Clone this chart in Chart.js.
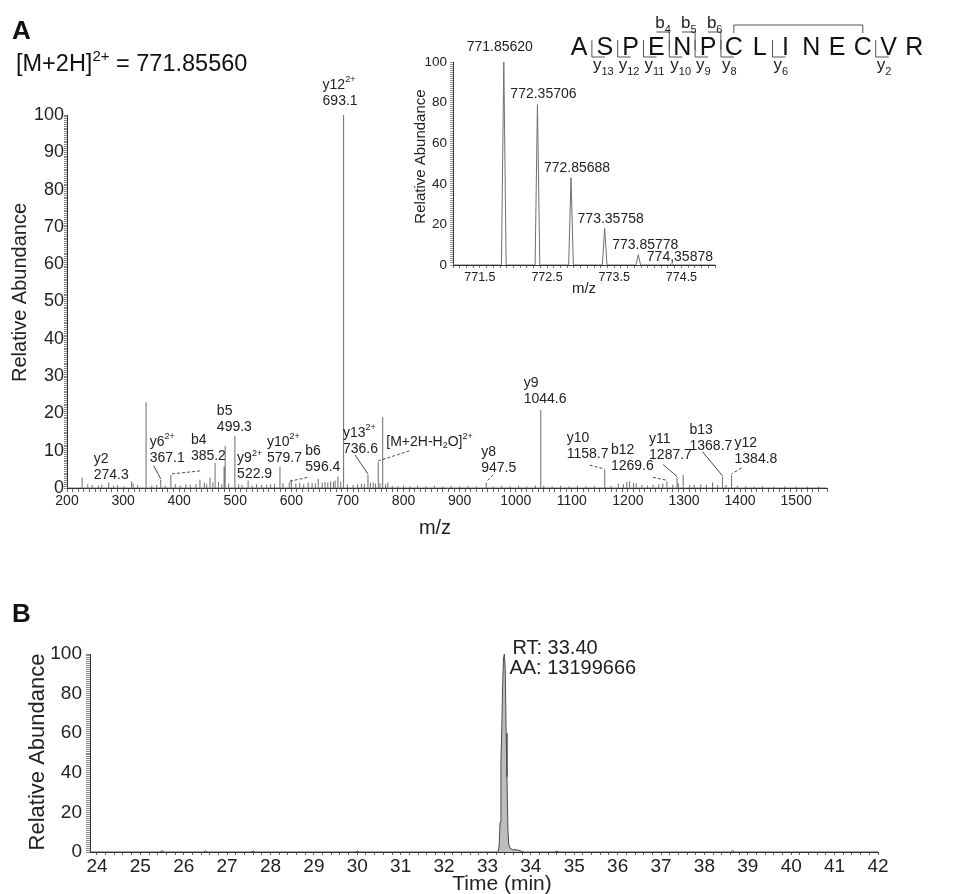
<!DOCTYPE html>
<html>
<head>
<meta charset="utf-8">
<script src="https://cdn.jsdelivr.net/npm/chart.js@4.4.1/dist/chart.umd.min.js"></script>
<style>
  html, body { margin: 0; padding: 0; background: #fff; }
  #wrap { position: relative; width: 969px; height: 894px; overflow: hidden; }
  canvas { position: absolute; }
  #msms { left: 0; top: 0; }
  #iso { left: 400px; top: 0; }
  #xic { left: 0; top: 560px; }
</style>
</head>
<body>
<div id="wrap">
  <canvas id="msms" width="969" height="545"></canvas>
  <canvas id="iso" width="330" height="300"></canvas>
  <canvas id="xic" width="969" height="334"></canvas>
</div>
<script>
// ---------- MS/MS spectrum of the doubly charged precursor (centroid m/z, relative abundance) ----------
const msmsMz = [
  227, 237, 245, 256, 262, 274.3, 283, 290, 302, 315,
  318, 326, 341, 351, 360, 367.1, 375, 385.2, 393, 402,
  412, 420, 430, 437, 445, 449, 455, 460, 464, 470,
  476, 480, 482, 488, 499.3, 506, 512, 522.9, 530, 538,
  547, 556, 563, 570, 579.7, 585, 596.4, 600, 608, 615,
  622, 630, 637, 643, 648, 655, 660, 665, 670, 675,
  678, 683, 688, 693.1, 700, 710, 718, 725, 730, 736.6,
  741, 746, 750, 755, 758, 762.8, 768, 772, 780, 790,
  800, 812, 825, 840, 855, 870, 885, 900, 915, 930,
  947.5, 960, 975, 990, 1005, 1020, 1035, 1044.6, 1050, 1065,
  1080, 1095, 1110, 1125, 1140, 1158.7, 1170, 1183, 1192, 1198,
  1203, 1210, 1215, 1225, 1235, 1245, 1255, 1262, 1269.6, 1280,
  1287.7, 1290, 1298.6, 1310, 1318, 1330, 1340, 1351, 1360, 1368.7,
  1375, 1384.8, 1395, 1410, 1425, 1440, 1460, 1480, 1500, 1520,
  1540
];
const msmsInt = [
  2.8, 1.0, 0.8, 0.7, 0.9, 1.5, 0.6, 0.8, 0.5, 1.8,
  1.2, 0.8, 23, 0.7, 0.8, 2.2, 0.6, 3.5, 1.0, 0.7,
  1.0, 0.9, 1.1, 2.2, 1.4, 1.0, 2.8, 1.5, 6.7, 1.6,
  1.0, 5.7, 11.3, 1.2, 14, 1.0, 0.8, 2.0, 0.7, 1.0,
  0.8, 0.9, 1.0, 1.1, 5.7, 1.3, 1.5, 2.2, 1.2, 1.4,
  1.0, 1.5, 1.3, 1.2, 2.5, 1.4, 1.6, 1.5, 1.8, 1.6,
  2.0, 3.0, 1.7, 100, 1.0, 0.8, 1.0, 1.2, 1.1, 3.5,
  1.4, 1.5, 1.2, 7.0, 1.3, 19, 1.0, 1.5, 0.6, 0.5,
  0.7, 0.5, 0.6, 0.5, 0.7, 0.5, 0.6, 0.5, 0.6, 0.5,
  1.4, 0.5, 0.6, 0.5, 0.6, 0.5, 0.7, 21, 0.6, 0.5,
  0.6, 0.5, 0.6, 0.5, 0.6, 4.8, 0.6, 1.2, 1.0, 1.6,
  1.8, 1.4, 1.2, 0.8, 0.7, 0.8, 1.0, 1.2, 1.8, 0.9,
  2.8, 1.2, 3.5, 0.8, 0.9, 1.0, 0.8, 1.5, 0.8, 3.0,
  0.8, 3.5, 0.6, 0.5, 0.4, 0.5, 0.4, 0.5, 0.4, 0.4,
  0.4
];

// annotated fragment ions
const ionName   = ['y2', 'y6', 'b4', 'b5', 'y9', 'y10', 'b6', 'y12', 'y13', '[M+2H-H2O]', 'y8', 'y9', 'y10', 'b12', 'y11', 'b13', 'y12'];
const ionCharge = ['', '2+', '', '', '2+', '2+', '', '2+', '2+', '2+', '', '', '', '', '', '', ''];
const ionMz     = [274.3, 367.1, 385.2, 499.3, 522.9, 579.7, 596.4, 693.1, 736.6, 755, 947.5, 1044.6, 1158.7, 1269.6, 1287.7, 1368.7, 1384.8];
const ionShowMz = [true, true, true, true, true, true, true, true, true, false, true, true, true, true, true, true, true];

// precursor isotope envelope
const precursorText = '771.85560';
const isoMz   = [771.85620, 772.35706, 772.85688, 773.35758, 773.85778, 774.35878];
const isoInt  = [100, 79, 43, 18, 5, 0.6];
const isoText = ['771.85620', '772.35706', '772.85688', '773.35758', '773.85778', '774,35878'];

// peptide sequence and observed cleavages
const residues   = ['A', 'S', 'P', 'E', 'N', 'P', 'C', 'L', 'I', 'N', 'E', 'C', 'V', 'R'];
const yIonSites  = [13, 12, 11, 10, 9, 8, 6, 2];
const bIonSites  = [4, 5, 6];
const disulfide  = [6, 11];

// extracted ion chromatogram
const rtMin = [
  23.84, 25.45, 25.5, 25.55, 26.45, 26.5, 26.55, 27.55, 27.6, 27.65,
  29.95, 30.0, 30.05, 33.24, 33.27, 33.29, 33.31, 33.33, 33.35, 33.37,
  33.39, 33.41, 33.43, 33.45, 33.47, 33.49, 33.52, 33.58, 33.7, 33.8,
  33.85, 34.55, 34.6, 34.65, 38.6, 38.65, 38.7, 42.0
];
const rtAbund = [
  0, 0, 0.6, 0, 0, 0.6, 0, 0, 0.5, 0,
  0, 0.5, 0, 0, 3, 15, 45, 62, 85, 98,
  100, 92, 60, 38, 12, 4, 2, 1.2, 1, 0.3,
  0, 0, 0.5, 0, 0, 0.7, 0, 0
];
const rtLabel = 'RT: 33.40';
const aaLabel = 'AA: 13199666';

// ---------- label layout (pixel offsets from the top of each annotated peak) ----------
const ionLabelOffset = [
  [-15, -23], [-11, -38], [20, -35], [-18, -25], [-11, -22], [-13, -25], [16, -31], [-21, -30], [-25, -42],
  [8, -20], [-5, -31], [-17, -27], [-38, -32], [-56, -31], [-28, -38], [-33, -47], [3, -32]
];
const ionLeader = [
  null, [-7, -14, false], [29, -4, true], null, null, null, [18, -5, true], null, [-13, -20, false],
  [31, -11, true], [7, -8, true], null, [-15, -5, true], [-14, -4, true], [-14, -13, false], [-20, -25, false], [10, -7, true]
];
const isoLabelOffset = [[-4, -15], [6, -10], [6, -10], [6, -9], [7, -10], [8, -7]];

// ---------- drawing helpers ----------
Chart.defaults.font.family = '"Liberation Sans", Arial, Helvetica, sans-serif';
Chart.defaults.color = '#222';
const FF = Chart.defaults.font.family;

function drawRich(ctx, x, y, segs, size, align) {
  const small = Math.round(size * 0.64);
  const ws = [];
  let w = 0;
  for (const [t, m] of segs) {
    ctx.font = `${m === 'n' ? size : small}px ${FF}`;
    const ww = ctx.measureText(t).width;
    ws.push(ww); w += ww;
  }
  let cx = align === 'center' ? x - w / 2 : x;
  ctx.textAlign = 'left';
  segs.forEach(([t, m], i) => {
    ctx.font = `${m === 'n' ? size : small}px ${FF}`;
    const oy = m === 'sup' ? -size * 0.36 : m === 'sub' ? size * 0.28 : 0;
    ctx.fillText(t, cx, y + oy);
    cx += ws[i];
  });
}

function ionSegs(i) {
  const name = ionName[i];
  const segs = name === '[M+2H-H2O]'
    ? [['[M+2H-H', 'n'], ['2', 'sub'], ['O]', 'n']]
    : [[name, 'n']];
  if (ionCharge[i]) segs.push([ionCharge[i], 'sup']);
  return segs;
}

function vTitle(ctx, text, x, y, size) {
  ctx.save();
  ctx.translate(x, y);
  ctx.rotate(-Math.PI / 2);
  ctx.font = `${size}px ${FF}`;
  ctx.fillStyle = '#222';
  ctx.textAlign = 'center';
  ctx.textBaseline = 'middle';
  ctx.fillText(text, 0, 0);
  ctx.restore();
}
function hTitle(ctx, text, x, y, size) {
  ctx.save();
  ctx.font = `${size}px ${FF}`;
  ctx.fillStyle = '#222';
  ctx.textAlign = 'center';
  ctx.textBaseline = 'middle';
  ctx.fillText(text, x, y);
  ctx.restore();
}

// ---------- panel A: MS/MS spectrum ----------
const stickPoints = [{ x: 200, y: 0 }];
msmsMz.forEach((m, i) => { stickPoints.push({ x: m, y: 0 }, { x: m, y: msmsInt[i] }, { x: m, y: 0 }); });
stickPoints.push({ x: 1555, y: 0 });

const msmsDecor = {
  id: 'msmsDecor',
  afterDatasetsDraw(chart) {
    const { ctx, scales: { x, y } } = chart;
    ctx.save();
    ctx.fillStyle = '#222';
    ctx.textBaseline = 'middle';
    ionMz.forEach((m, i) => {
      const h = msmsInt[msmsMz.indexOf(m)];
      const px = x.getPixelForValue(m), py = y.getPixelForValue(h);
      const [dx, dy] = ionLabelOffset[i];
      drawRich(ctx, px + dx, py + dy, ionSegs(i), 14, 'left');
      if (ionShowMz[i]) {
        ctx.font = `14px ${FF}`;
        ctx.fillText(m.toFixed(1), px + dx, py + dy + 16);
      }
      const lf = ionLeader[i];
      if (lf) {
        ctx.beginPath();
        ctx.setLineDash(lf[2] ? [3, 2] : []);
        ctx.strokeStyle = '#333';
        ctx.lineWidth = 0.9;
        ctx.moveTo(px + lf[0], py + lf[1]);
        ctx.lineTo(px, py - 1);
        ctx.stroke();
        ctx.setLineDash([]);
      }
    });
    ctx.restore();
  },
  afterDraw(chart) {
    const { ctx, chartArea: ca } = chart;
    ctx.save();
    // axis titles
    vTitle(ctx, 'Relative Abundance', ca.left - 47, (ca.top + ca.bottom) / 2 - 9, 20);
    hTitle(ctx, 'm/z', (ca.left + ca.right) / 2 - 12, ca.bottom + 40, 20);
    // panel letter and precursor
    ctx.fillStyle = '#111';
    ctx.font = `bold 26px ${FF}`;
    ctx.textAlign = 'left';
    ctx.textBaseline = 'alphabetic';
    ctx.fillText('A', 12, 39);
    ctx.textBaseline = 'middle';
    drawRich(ctx, 16, 65, [['[M+2H]', 'n'], ['2+', 'sup'], [' = ' + precursorText, 'n']], 23.5, 'left');

    // peptide sequence with fragment map
    const X0 = 579, STEP = 25.8;
    const X = k => X0 + k * STEP;
    ctx.font = `25px ${FF}`;
    ctx.textAlign = 'center';
    ctx.textBaseline = 'alphabetic';
    ctx.fillStyle = '#111';
    residues.forEach((r, k) => ctx.fillText(r, X(k), 55));
    ctx.strokeStyle = '#555';
    ctx.lineWidth = 1;
    ctx.fillStyle = '#222';
    yIonSites.forEach(n => {
      const k = residues.length - n;
      const xb = (X(k - 1) + X(k)) / 2;
      ctx.beginPath();
      ctx.moveTo(xb, 40); ctx.lineTo(xb, 57); ctx.lineTo(xb + 13, 57);
      ctx.stroke();
      ctx.textBaseline = 'alphabetic';
      drawRich(ctx, xb + 1, 70, [['y', 'n'], [String(n), 'sub']], 17, 'left');
    });
    bIonSites.forEach(n => {
      const xb = (X(n - 1) + X(n)) / 2;
      ctx.beginPath();
      ctx.moveTo(xb - 13, 32); ctx.lineTo(xb, 32); ctx.lineTo(xb, 50);
      ctx.stroke();
      ctx.textBaseline = 'alphabetic';
      drawRich(ctx, xb - 14, 28, [['b', 'n'], [String(n), 'sub']], 17, 'left');
    });
    ctx.beginPath();
    ctx.moveTo(X(disulfide[0]), 33); ctx.lineTo(X(disulfide[0]), 25);
    ctx.lineTo(X(disulfide[1]), 25); ctx.lineTo(X(disulfide[1]), 33);
    ctx.stroke();
    ctx.restore();
  }
};

new Chart(document.getElementById('msms'), {
  type: 'scatter',
  data: { datasets: [{ data: stickPoints, showLine: true, borderColor: '#7a7a7a', borderWidth: 1.1, pointRadius: 0, tension: 0 }] },
  options: {
    responsive: false, animation: false, devicePixelRatio: 1,
    layout: { padding: { left: 0, top: 115, right: 142, bottom: 0 } },
    plugins: { legend: { display: false }, tooltip: { enabled: false } },
    scales: {
      x: {
        type: 'linear', min: 200, max: 1555,
        afterFit: s => { s.height = 57; },
        ticks: { stepSize: 10, autoSkip: false, maxRotation: 0, padding: 1, font: { size: 14 },
          callback: v => (Math.abs(v - Math.round(v / 100) * 100) < 1e-6 ? String(Math.round(v)) : '') },
        grid: { drawOnChartArea: false, tickLength: 4, color: '#666' },
        border: { color: '#333' }
      },
      y: {
        min: 0, max: 100,
        afterFit: s => { s.width = 67; },
        ticks: { stepSize: 0.5, autoSkip: false, padding: 0, font: { size: 18 },
          callback: v => (v % 10 === 0 ? String(v) : '') },
        grid: { drawOnChartArea: false, tickLength: 3, color: '#888' },
        border: { color: '#333' }
      }
    }
  },
  plugins: [msmsDecor]
});

// ---------- inset: precursor isotope cluster ----------
const isoPoints = [{ x: 771.1, y: 0 }];
isoMz.forEach((m, i) => { isoPoints.push({ x: m - 0.035, y: 0 }, { x: m, y: isoInt[i] }, { x: m + 0.035, y: 0 }); });
isoPoints.push({ x: 775.0, y: 0 });

const isoDecor = {
  id: 'isoDecor',
  afterDatasetsDraw(chart) {
    const { ctx, scales: { x, y }, chartArea: ca } = chart;
    ctx.save();
    ctx.fillStyle = '#222';
    ctx.textBaseline = 'middle';
    ctx.textAlign = 'center';
    ctx.font = `14px ${FF}`;
    isoMz.forEach((m, i) => {
      const px = x.getPixelForValue(m), py = y.getPixelForValue(isoInt[i]);
      const [dx, dy] = isoLabelOffset[i];
      ctx.fillText(isoText[i], px + dx, py + dy);
    });
    vTitle(ctx, 'Relative Abundance', ca.left - 32, (ca.top + ca.bottom) / 2 - 7, 15);
    hTitle(ctx, 'm/z', (ca.left + ca.right) / 2, ca.bottom + 24, 15);
    ctx.restore();
  }
};

new Chart(document.getElementById('iso'), {
  type: 'scatter',
  data: { datasets: [{ data: isoPoints, showLine: true, borderColor: '#6f6f6f', borderWidth: 1, pointRadius: 0, tension: 0 }] },
  options: {
    responsive: false, animation: false, devicePixelRatio: 1,
    layout: { padding: { left: 0, top: 62, right: 15, bottom: 0 } },
    plugins: { legend: { display: false }, tooltip: { enabled: false } },
    scales: {
      x: {
        type: 'linear', min: 771.1, max: 775.0,
        afterFit: s => { s.height = 35; },
        ticks: { stepSize: 0.1, autoSkip: false, maxRotation: 0, padding: 2, font: { size: 12.5 },
          callback: v => (Math.round(v * 10) % 10 === 5 ? v.toFixed(1) : '') },
        grid: { drawOnChartArea: false, tickLength: 3, color: '#777' },
        border: { color: '#333' }
      },
      y: {
        min: 0, max: 100,
        afterFit: s => { s.width = 53; },
        ticks: { stepSize: 1, autoSkip: false, padding: 3, font: { size: 13.5 },
          callback: v => (v % 20 === 0 ? String(v) : '') },
        grid: { drawOnChartArea: false, tickLength: 3, color: '#999' },
        border: { color: '#333' }
      }
    }
  },
  plugins: [isoDecor]
});

// ---------- panel B: extracted ion chromatogram ----------
const xicPoints = rtMin.map((t, i) => ({ x: t, y: rtAbund[i] }));

const xicDecor = {
  id: 'xicDecor',
  afterDraw(chart) {
    const { ctx, scales: { x, y }, chartArea: ca } = chart;
    ctx.save();
    const iTop = rtAbund.indexOf(Math.max(...rtAbund));
    const px = x.getPixelForValue(rtMin[iTop]), py = y.getPixelForValue(rtAbund[iTop]);
    ctx.fillStyle = '#222';
    ctx.textAlign = 'left';
    ctx.textBaseline = 'middle';
    ctx.font = `20px ${FF}`;
    ctx.fillText(rtLabel, px + 8, py - 6);
    ctx.fillText(aaLabel, px + 5, py + 14);
    vTitle(ctx, 'Relative Abundance', ca.left - 52, (ca.top + ca.bottom) / 2 - 1, 22);
    hTitle(ctx, 'Time (min)', (ca.left + ca.right) / 2 + 18, ca.bottom + 32, 21);
    ctx.fillStyle = '#111';
    ctx.font = `bold 26px ${FF}`;
    ctx.textBaseline = 'alphabetic';
    ctx.fillText('B', 12, 62);
    ctx.restore();
  }
};

new Chart(document.getElementById('xic'), {
  type: 'scatter',
  data: { datasets: [{ data: xicPoints, showLine: true, fill: 'origin', backgroundColor: '#bdbdbd',
    borderColor: '#4a4a4a', borderWidth: 1, pointRadius: 0, tension: 0 }] },
  options: {
    responsive: false, animation: false, devicePixelRatio: 1,
    layout: { padding: { left: 0, top: 94, right: 91, bottom: 0 } },
    plugins: { legend: { display: false }, tooltip: { enabled: false } },
    scales: {
      x: {
        type: 'linear', min: 23.84, max: 42,
        afterFit: s => { s.height = 42; },
        // minor ticks every 0.2 min from 24 to 42, labelled on whole minutes
        afterBuildTicks: s => {
          const t = [];
          for (let k = 0; k <= 90; k++) t.push({ value: Math.round((24 + k * 0.2) * 10) / 10 });
          s.ticks = t;
        },
        ticks: { autoSkip: false, maxRotation: 0, padding: 0, font: { size: 19 },
          callback: v => (Math.abs(v - Math.round(v)) < 1e-6 ? String(Math.round(v)) : '') },
        grid: { drawOnChartArea: false, tickLength: 3, color: '#666' },
        border: { color: '#333' }
      },
      y: {
        min: 0, max: 100,
        afterFit: s => { s.width = 90; },
        ticks: { stepSize: 1, autoSkip: false, padding: 4, font: { size: 19 },
          callback: v => (v % 20 === 0 ? String(v) : '') },
        grid: { drawOnChartArea: false, tickLength: 4, color: '#888' },
        border: { color: '#333' }
      }
    }
  },
  plugins: [xicDecor]
});
</script>
</body>
</html>
